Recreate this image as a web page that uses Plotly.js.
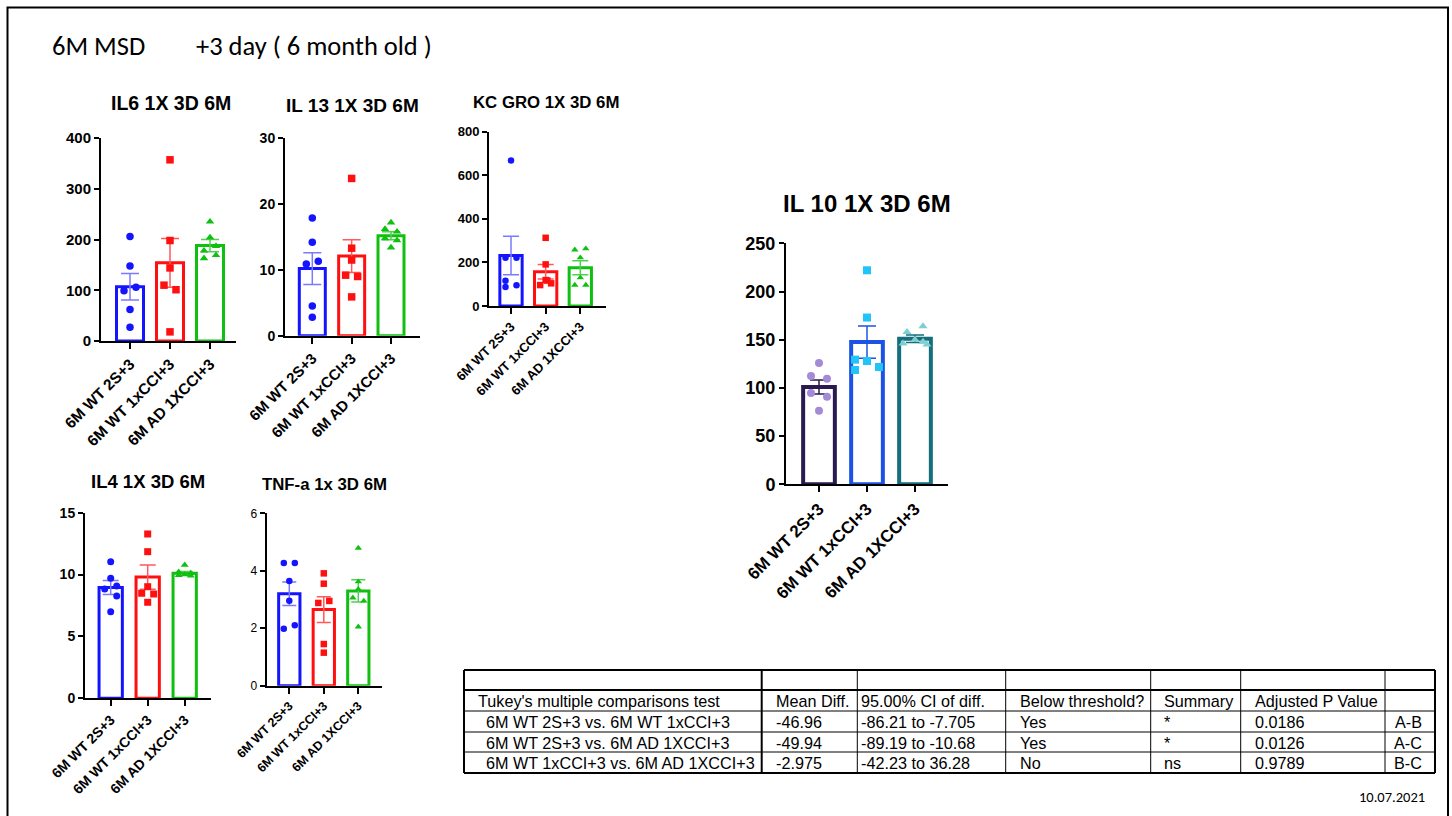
<!DOCTYPE html>
<html><head><meta charset="utf-8">
<script src="https://cdn.plot.ly/plotly-3.0.1.min.js"></script>
<style>html,body{margin:0;padding:0;background:#fff;overflow:hidden}#plot{width:1452px;height:816px}</style>
</head><body><div id="plot"></div>
<script>
// ---------------- DATA ----------------
const categories = ['6M WT 2S+3', '6M WT 1xCCI+3', '6M AD 1XCCI+3'];

// IL6 1X 3D 6M
const il6Sham  = [206, 148, 99, 106, 62, 27];
const il6WtCci = [357, 198, 144, 110, 101, 18];
const il6AdCci = [235, 204, 178, 187, 163, 169];
const il6Mean  = [107, 154, 188];
const il6Sem   = [26, 48, 12];

// IL 13 1X 3D 6M
const il13Sham  = [17.9, 14.2, 10.9, 11.3, 4.5, 2.8];
const il13WtCci = [23.9, 13.3, 11.5, 9.2, 9.0, 5.9];
const il13AdCci = [17.2, 16.2, 15.8, 14.8, 14.5, 13.4];
const il13Mean  = [10.2, 12.1, 15.2];
const il13Sem   = [2.4, 2.5, 0.6];

// KC GRO 1X 3D 6M
const kcSham  = [668, 222, 222, 116, 87, 95];
const kcWtCci = [313, 191, 119, 117, 96, 104];
const kcAdCci = [258, 263, 222, 130, 96, 96];
const kcMean  = [232, 157, 176];
const kcSem   = [88, 33, 32];

// IL4 1X 3D 6M
const il4Sham  = [11.04, 9.7, 8.84, 9.08, 8.27, 7.0];
const il4WtCci = [13.28, 11.85, 9.02, 8.49, 8.43, 7.76];
const il4AdCci = [10.78, 10.2, 10.1, 9.95, 9.9, 10.0];
const il4Mean  = [8.95, 9.8, 10.1];
const il4Sem   = [0.57, 0.98, 0.15];

// TNF-a 1x 3D 6M
const tnfSham  = [4.27, 4.27, 3.64, 2.96, 1.98, 2.1];
const tnfWtCci = [3.91, 3.55, 2.88, 2.95, 1.45, 1.15];
const tnfAdCci = [4.79, 3.62, 3.36, 3.06, 2.95, 2.05];
const tnfMean  = [3.2, 2.65, 3.3];
const tnfSem   = [0.41, 0.45, 0.39];

// IL 10 1X 3D 6M
const il10Sham  = [125.8, 112.3, 109.5, 94.7, 90.9, 76.4];
const il10WtCci = [222, 173, 129.3, 127.9, 118.6, 121.7];
const il10AdCci = [164, 158, 150, 148, 146, 145];
const il10Mean  = [101, 147.5, 151];
const il10Sem   = [7.3, 16.8, 3.9];

// Tukey table (IL10)
const tableHeader = ["Tukey's multiple comparisons test", 'Mean Diff.', '95.00% CI of diff.', 'Below threshold?', 'Summary', 'Adjusted P Value', ''];
const tableComparison = ['6M WT 2S+3 vs. 6M WT 1xCCI+3', '6M WT 2S+3 vs. 6M AD 1XCCI+3', '6M WT 1xCCI+3 vs. 6M AD 1XCCI+3'];
const tableMeanDiff = ['-46.96', '-49.94', '-2.975'];
const tableCI = ['-86.21 to -7.705', '-89.19 to -10.68', '-42.23 to 36.28'];
const tableBelow = ['Yes', 'Yes', 'No'];
const tableSummary = ['*', '*', 'ns'];
const tableP = ['0.0186', '0.0126', '0.9789'];
const tableCode = ['A-B', 'A-C', 'B-C'];

const pageTitleA = '6M MSD';
const pageTitleB = '+3 day ( 6 month old )';
const dateText = '10.07.2021';

// ---------------- STYLE / LAYOUT ----------------
const W = 1452, H = 816;
const px = x => x / W;
const py = y => 1 - y / H;
const FONT = 'Liberation Sans, Arial, sans-serif';

const std = {
  bar: ['#1414ff', '#ff1010', '#10c010'],
  err: ['#7a7aff', '#ff5a5a', '#50d050'],
  pts: ['#1414ff', '#ff1010', '#10c010']
};
const il10Col = {
  bar: ['#2a1a4e', '#1c52e6', '#146e7c'],
  err: ['#2a1a4e', '#1c52e6', '#146e7c'],
  pts: ['#a58ad6', '#20c4f6', '#7dcfd2']
};
const symbols = ['circle', 'square', 'triangle-up'];

const charts = [
  {title: 'IL6 1X 3D 6M', groups: [il6Sham, il6WtCci, il6AdCci], mean: il6Mean, sem: il6Sem, ymax: 400, dtick: 100,
   jit: [[0,0,-1,1,0,0],[0,0,0,-1,1,0],[0,0,-1,1,-1,1]], jpx: 6,
   x0: 101, x1: 236, c0: 130, step: 40, ytop: 138, ybot: 341, barW: 27, lw: 3, cap: 9, ms: 7.5,
   tf: 15, xf: 15.5, tcx: 171, tcy: 103, tfs: 19.5, col: std},
  {title: 'IL 13 1X 3D 6M', groups: [il13Sham, il13WtCci, il13AdCci], mean: il13Mean, sem: il13Sem, ymax: 30, dtick: 10,
   jit: [[0,0,-1,1,0,0],[0,0,0,-1,1,0],[0,-1,1,-1,1,0]], jpx: 6,
   x0: 285, x1: 420, c0: 312.3, step: 39.35, ytop: 138.3, ybot: 335.7, barW: 26, lw: 3, cap: 9, ms: 7.5,
   tf: 14, xf: 15, tcx: 352, tcy: 106, tfs: 19, col: std},
  {title: 'KC GRO 1X 3D 6M', groups: [kcSham, kcWtCci, kcAdCci], mean: kcMean, sem: kcSem, ymax: 800, dtick: 200,
   jit: [[0,-1,1,-1,-1,1],[0,0,0,0.3,-1,1],[-1,1,0,0,-1,1]], jpx: 5.5,
   x0: 489, x1: 605.7, c0: 511, step: 34.65, ytop: 131.7, ybot: 306, barW: 22.3, lw: 3, cap: 8, ms: 6.5,
   tf: 13, xf: 13, tcx: 546, tcy: 102.3, tfs: 16.8, col: std},
  {title: 'IL4 1X 3D 6M', groups: [il4Sham, il4WtCci, il4AdCci], mean: il4Mean, sem: il4Sem, ymax: 15, dtick: 5,
   jit: [[0,0,-1,1,1,0],[0,0,0,-1,1,0],[0,-1,1,-1,1,0]], jpx: 6,
   x0: 85, x1: 210.7, c0: 110.7, step: 37, ytop: 512.7, ybot: 698.3, barW: 23.3, lw: 3, cap: 8, ms: 7,
   tf: 14, xf: 14, tcx: 148, tcy: 481.7, tfs: 18.5, col: std},
  {title: 'TNF-a 1x 3D 6M', groups: [tnfSham, tnfWtCci, tnfAdCci], mean: tnfMean, sem: tnfSem, ymax: 6, dtick: 2,
   jit: [[-1,1,0,0,-1,1],[0,0,-1,1,0,0],[0,0,0,-1,1,0]], jpx: 5.5,
   x0: 266.7, x1: 381.7, c0: 289.3, step: 34.5, ytop: 513.3, ybot: 685.7, barW: 21.3, lw: 3, cap: 7, ms: 6.5,
   tf: 12, xf: 12.5, tcx: 324, tcy: 484.3, tfs: 16.8, tickBold: false, col: std},
  {title: 'IL 10 1X 3D 6M', groups: [il10Sham, il10WtCci, il10AdCci], mean: il10Mean, sem: il10Sem, ymax: 250, dtick: 50,
   jit: [[0,-1,1,-1,1,0],[0,0,-1.5,0,-1.5,1.5],[1,-1,0,1,-1.5,1.5]], jpx: 8,
   x0: 786, x1: 948.3, c0: 819, step: 48, ytop: 243.3, ybot: 484.3, barW: 31.7, lw: 4, cap: 9, ms: 8,
   tf: 18, xf: 17, tcx: 866.7, tcy: 203, tfs: 24, col: il10Col}
];

const traces = [];
const layout = {
  width: W, height: H, margin: {l: 0, r: 0, t: 0, b: 0},
  paper_bgcolor: '#fff', plot_bgcolor: 'rgba(0,0,0,0)',
  barmode: 'overlay', showlegend: false, hovermode: false,
  annotations: [], shapes: []
};

charts.forEach((c, i) => {
  const s = i === 0 ? '' : String(i + 1);
  const tickWeight = c.tickBold === false ? 'normal' : 'bold';
  c.groups.forEach((vals, g) => {
    traces.push({
      type: 'bar', x: [g], y: [c.mean[g]], width: [c.barW / c.step],
      xaxis: 'x' + s, yaxis: 'y' + s,
      marker: {color: 'rgba(255,255,255,0)', line: {color: c.col.bar[g], width: c.lw}},
      error_y: {type: 'data', array: [c.sem[g]], visible: true, color: c.col.err[g], thickness: 1.5, width: c.cap},
      hoverinfo: 'skip'
    });
    traces.push({
      type: 'scatter', mode: 'markers',
      x: vals.map((v, k) => g + c.jit[g][k] * c.jpx / c.step), y: vals,
      xaxis: 'x' + s, yaxis: 'y' + s,
      marker: {symbol: symbols[g], size: c.ms, color: c.col.pts[g], line: {width: 0}},
      cliponaxis: false, hoverinfo: 'skip'
    });
  });
  layout['xaxis' + s] = {
    domain: [px(c.x0), px(c.x1)], range: [(c.x0 - c.c0) / c.step, (c.x1 - c.c0) / c.step],
    anchor: 'y' + s, tickmode: 'array', tickvals: [0, 1, 2], ticktext: categories, tickangle: -45,
    ticks: 'outside', ticklen: 6, tickwidth: 2, tickcolor: '#000',
    showline: true, linewidth: 2, linecolor: '#000', showgrid: false, zeroline: false, fixedrange: true,
    tickfont: {family: FONT, size: c.xf, color: '#000', weight: 'bold'}
  };
  layout['yaxis' + s] = {
    domain: [py(c.ybot), py(c.ytop)], range: [0, c.ymax], anchor: 'x' + s,
    tickmode: 'linear', tick0: 0, dtick: c.dtick,
    ticks: 'outside', ticklen: 5, tickwidth: 2, tickcolor: '#000',
    showline: true, linewidth: 2, linecolor: '#000', showgrid: false, zeroline: false, fixedrange: true,
    tickfont: {family: FONT, size: c.tf, color: '#000', weight: tickWeight}
  };
  layout.annotations.push({
    xref: 'paper', yref: 'paper', x: px(c.tcx), y: py(c.tcy), xanchor: 'center', yanchor: 'middle',
    text: c.title, showarrow: false, font: {family: FONT, size: c.tfs, color: '#000', weight: 'bold'}
  });
});

// page frame
layout.shapes.push({type: 'rect', xref: 'paper', yref: 'paper', x0: px(7.5), x1: px(1448), y0: py(7.5), y1: py(840),
  line: {color: '#000', width: 2}, fillcolor: 'rgba(0,0,0,0)'});

// page title and date
const titleFont = {family: 'Carlito, Lato, sans-serif', size: 26.5, color: '#000'};
layout.annotations.push({xref: 'paper', yref: 'paper', x: px(50), y: py(46), xanchor: 'left', yanchor: 'middle',
  text: pageTitleA, showarrow: false, font: titleFont});
layout.annotations.push({xref: 'paper', yref: 'paper', x: px(194), y: py(46), xanchor: 'left', yanchor: 'middle',
  text: pageTitleB, showarrow: false, font: titleFont});
layout.annotations.push({xref: 'paper', yref: 'paper', x: px(1427), y: py(797), xanchor: 'right', yanchor: 'middle',
  text: dateText, showarrow: false, font: {family: 'Carlito, Lato, sans-serif', size: 14.5, color: '#000'}});

// table geometry
const tRows = [670, 690, 711, 732, 752, 773];
const tCols = [464, 761.7, 857.3, 1005.7, 1150.7, 1240.7, 1385, 1435];
tRows.forEach((y, k) => {
  const thick = (k === 0 || k === 1 || k === tRows.length - 1);
  layout.shapes.push({type: 'line', xref: 'paper', yref: 'paper', x0: px(tCols[0]), x1: px(tCols[tCols.length - 1]),
    y0: py(y), y1: py(y), line: {color: '#000', width: thick ? 2 : 1}});
});
tCols.forEach((x, k) => {
  const thick = (k === 0 || k === 1 || k === tCols.length - 1);
  layout.shapes.push({type: 'line', xref: 'paper', yref: 'paper', x0: px(x), x1: px(x),
    y0: py(tRows[0]), y1: py(tRows[tRows.length - 1]), line: {color: '#000', width: thick ? 2 : 1}});
});
const tFont = {family: FONT, size: 16.2, color: '#000'};
const rowMid = k => (tRows[k + 1] + tRows[k + 2]) / 2 + 0.5;
const textX = [476, 774, 859, 1018, 1162, 1253];
tableHeader.forEach((t, j) => {
  if (!t) return;
  layout.annotations.push({xref: 'paper', yref: 'paper', x: px(textX[j]), y: py(rowMid(0)), xanchor: 'left', yanchor: 'middle',
    text: t, showarrow: false, font: tFont});
});
const colsData = [tableComparison, tableMeanDiff, tableCI, tableBelow, tableSummary, tableP];
const dataX = [484, 774, 859, 1018, 1162, 1253];
for (let r = 0; r < tableComparison.length; r++) {
  colsData.forEach((col, j) => {
    layout.annotations.push({xref: 'paper', yref: 'paper', x: px(dataX[j]), y: py(rowMid(r + 1)), xanchor: 'left', yanchor: 'middle',
      text: col[r], showarrow: false, font: tFont});
  });
  layout.annotations.push({xref: 'paper', yref: 'paper', x: px(1424), y: py(rowMid(r + 1)), xanchor: 'right', yanchor: 'middle',
    text: tableCode[r], showarrow: false, font: tFont});
}

Plotly.newPlot('plot', traces, layout, {staticPlot: true, displayModeBar: false});
</script>
</body></html>
